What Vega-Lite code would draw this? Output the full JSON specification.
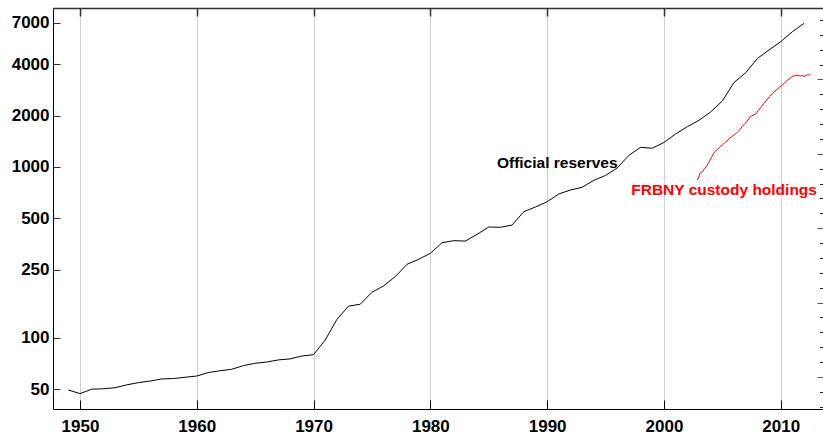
{
  "$schema": "https://vega.github.io/schema/vega-lite/v6.json",
  "width": 770,
  "height": 401,
  "autosize": "none",
  "padding": {"left": 53, "top": 8, "right": 0, "bottom": 25},
  "background": "white",
  "config": {"view": {"stroke": null}, "font": "Liberation Sans"},
  "datasets": {
    "official": [
      {"year": 1949, "value": 49.4}, {"year": 1950, "value": 47.0}, {"year": 1951, "value": 49.9},
      {"year": 1952, "value": 50.2}, {"year": 1953, "value": 50.9}, {"year": 1954, "value": 52.9},
      {"year": 1955, "value": 54.5}, {"year": 1956, "value": 55.7}, {"year": 1957, "value": 57.3},
      {"year": 1958, "value": 57.6}, {"year": 1959, "value": 58.6}, {"year": 1960, "value": 59.6},
      {"year": 1961, "value": 62.5}, {"year": 1962, "value": 64.0}, {"year": 1963, "value": 65.3},
      {"year": 1964, "value": 68.6}, {"year": 1965, "value": 70.8}, {"year": 1966, "value": 72.0},
      {"year": 1967, "value": 74.1}, {"year": 1968, "value": 75.1}, {"year": 1969, "value": 78.1},
      {"year": 1970, "value": 79.5}, {"year": 1971, "value": 96.9}, {"year": 1972, "value": 128},
      {"year": 1973, "value": 153}, {"year": 1974, "value": 157}, {"year": 1975, "value": 184.5},
      {"year": 1976, "value": 201}, {"year": 1977, "value": 228}, {"year": 1978, "value": 269},
      {"year": 1979, "value": 288}, {"year": 1980, "value": 312}, {"year": 1981, "value": 360},
      {"year": 1982, "value": 370}, {"year": 1983, "value": 368}, {"year": 1984, "value": 403},
      {"year": 1985, "value": 445}, {"year": 1986, "value": 443}, {"year": 1987, "value": 457},
      {"year": 1988, "value": 547}, {"year": 1989, "value": 583}, {"year": 1990, "value": 626},
      {"year": 1991, "value": 695}, {"year": 1992, "value": 733}, {"year": 1993, "value": 760},
      {"year": 1994, "value": 836}, {"year": 1995, "value": 892}, {"year": 1996, "value": 987},
      {"year": 1997, "value": 1170}, {"year": 1998, "value": 1304}, {"year": 1999, "value": 1287},
      {"year": 2000, "value": 1392}, {"year": 2001, "value": 1561}, {"year": 2002, "value": 1722},
      {"year": 2003, "value": 1877}, {"year": 2004, "value": 2100}, {"year": 2005, "value": 2436},
      {"year": 2006, "value": 3126}, {"year": 2007, "value": 3567}, {"year": 2008, "value": 4322},
      {"year": 2009, "value": 4846}, {"year": 2010, "value": 5420}, {"year": 2011, "value": 6203},
      {"year": 2012, "value": 6947}
    ],
    "custody": [
      {"year": 2002.85, "value": 839}, {"year": 2002.95, "value": 862}, {"year": 2003.08, "value": 919},
      {"year": 2003.3, "value": 940}, {"year": 2003.5, "value": 983}, {"year": 2003.65, "value": 1010},
      {"year": 2003.8, "value": 1051}, {"year": 2004.1, "value": 1149}, {"year": 2004.35, "value": 1229},
      {"year": 2004.6, "value": 1270}, {"year": 2004.8, "value": 1315}, {"year": 2005.0, "value": 1345},
      {"year": 2005.2, "value": 1388}, {"year": 2005.4, "value": 1420}, {"year": 2005.6, "value": 1473},
      {"year": 2005.9, "value": 1520}, {"year": 2006.2, "value": 1576}, {"year": 2006.45, "value": 1640},
      {"year": 2006.7, "value": 1722}, {"year": 2006.95, "value": 1800}, {"year": 2007.2, "value": 1885},
      {"year": 2007.35, "value": 1960}, {"year": 2007.5, "value": 1990}, {"year": 2007.7, "value": 2020},
      {"year": 2007.9, "value": 2064}, {"year": 2008.1, "value": 2150}, {"year": 2008.35, "value": 2256},
      {"year": 2008.55, "value": 2360}, {"year": 2008.8, "value": 2469}, {"year": 2009.05, "value": 2590},
      {"year": 2009.3, "value": 2703}, {"year": 2009.6, "value": 2820}, {"year": 2009.9, "value": 2931},
      {"year": 2010.1, "value": 3000}, {"year": 2010.3, "value": 3093}, {"year": 2010.6, "value": 3230},
      {"year": 2010.9, "value": 3354}, {"year": 2011.1, "value": 3410}, {"year": 2011.3, "value": 3445},
      {"year": 2011.5, "value": 3430}, {"year": 2011.7, "value": 3413}, {"year": 2011.85, "value": 3440},
      {"year": 2012.0, "value": 3381}, {"year": 2012.15, "value": 3440}, {"year": 2012.3, "value": 3473},
      {"year": 2012.45, "value": 3460}, {"year": 2012.56, "value": 3506}
    ],
    "labels": [
      {"year": 1985.7, "value": 987, "label": "Official reserves", "series": "official"},
      {"year": 1997.2, "value": 685, "label": "FRBNY custody holdings", "series": "custody"}
    ]
  },
  "layer": [
    {
      "layer": [
        {
          "data": {"name": "official"},
          "mark": {"type": "line", "color": "black", "strokeWidth": 1},
          "encoding": {
            "x": {
              "field": "year", "type": "quantitative",
              "scale": {"domain": [1947.69, 2013.62], "nice": false, "zero": false},
              "axis": {
                "orient": "bottom", "title": null, "values": [1950, 1960, 1970, 1980, 1990, 2000, 2010],
                "format": "d", "grid": true, "gridColor": "#d0d0d0", "gridWidth": 1,
                "domainColor": "black", "domainWidth": 1, "tickColor": "black", "tickWidth": 1, "tickSize": -9,
                "labelFontSize": 17, "labelFontWeight": "bold", "labelColor": "black", "labelPadding": 18
              }
            },
            "y": {
              "field": "value", "type": "quantitative",
              "scale": {"type": "log", "domain": [38.2, 8540], "nice": false},
              "axis": {
                "orient": "left", "title": null, "values": [50, 100, 250, 500, 1000, 2000, 4000, 7000],
                "format": "d", "grid": false,
                "domainColor": "black", "domainWidth": 1, "tickColor": "#333", "tickWidth": 1, "tickSize": -7,
                "labelFontSize": 17, "labelFontWeight": "bold", "labelColor": "black", "labelPadding": 11
              }
            }
          }
        },
        {
          "data": {"name": "custody"},
          "mark": {"type": "line", "color": "#ff0000", "strokeWidth": 1},
          "encoding": {
            "x": {"field": "year", "type": "quantitative"},
            "y": {"field": "value", "type": "quantitative"}
          }
        },
        {
          "data": {"name": "labels"},
          "mark": {"type": "text", "align": "left", "baseline": "alphabetic", "font": "Liberation Sans", "fontSize": 15.5, "fontWeight": "bold"},
          "encoding": {
            "x": {"field": "year", "type": "quantitative"},
            "y": {"field": "value", "type": "quantitative"},
            "text": {"field": "label"},
            "color": {"field": "series", "type": "nominal", "scale": {"domain": ["official", "custody"], "range": ["black", "#ff0000"]}, "legend": null}
          }
        }
      ]
    },
    {
      "data": {"name": "labels"},
      "mark": {"type": "point", "opacity": 0},
      "encoding": {
        "x": {
          "datum": 1980, "type": "quantitative",
          "scale": {"domain": [1947.69, 2013.62], "nice": false, "zero": false},
          "axis": {
            "orient": "top", "title": null, "values": [1950, 1960, 1970, 1980, 1990, 2000, 2010],
            "labels": false, "grid": false, "domainColor": "#333", "domainWidth": 1.5,
            "tickColor": "#333", "tickWidth": 1.5, "tickSize": -8
          }
        },
        "y": {
          "datum": 0, "type": "quantitative",
          "scale": {"domain": [-0.43, 4.96], "nice": false, "zero": false},
          "axis": {
            "orient": "right", "title": null,
            "values": [-0.4, -0.2, 0, 0.2, 0.4, 0.6, 0.8, 1, 1.2, 1.4, 1.6, 1.8, 2, 2.2, 2.4, 2.6, 2.8, 3, 3.2, 3.4, 3.6, 3.8, 4, 4.2, 4.4, 4.6, 4.8],
            "labels": false, "grid": false, "domain": false,
            "tickColor": {"condition": {"test": "abs(datum.value - round(datum.value)) < 0.01", "value": "#555"}, "value": "#222"},
            "tickSize": {"condition": {"test": "abs(datum.value - round(datum.value)) < 0.01", "value": -6}, "value": -3.5},
            "tickWidth": 1
          }
        }
      }
    }
  ],
  "resolve": {"scale": {"x": "independent", "y": "independent"}}
}
